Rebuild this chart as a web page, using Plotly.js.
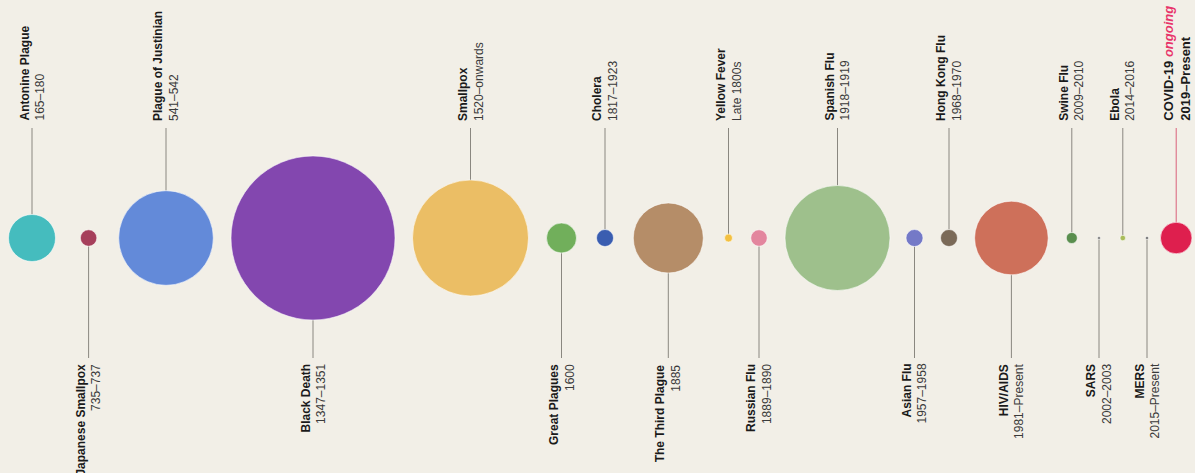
<!DOCTYPE html>
<html><head><meta charset="utf-8">
<script src="https://cdn.plot.ly/plotly-3.0.1.min.js"></script>
<style>html,body{margin:0;padding:0;background:#F2EFE7;}#chart{width:1195px;height:473px;}</style>
</head><body><div id="chart"></div>
<script>
// ---- data ----
const names = ["Antonine Plague","Japanese Smallpox","Plague of Justinian","Black Death","Smallpox","Great Plagues","Cholera","The Third Plague","Yellow Fever","Russian Flu","Spanish Flu","Asian Flu","Hong Kong Flu","HIV/AIDS","Swine Flu","SARS","Ebola","MERS","COVID-19"];
const periods = ["165–180","735–737","541–542","1347–1351","1520–onwards","1600","1817–1923","1885","Late 1800s","1889–1890","1918–1919","1957–1958","1968–1970","1981–Present","2009–2010","2002–2003","2014–2016","2015–Present","2019–Present"];
// timeline slot (centre of each bubble along the strip)
const slot = [32, 88.6, 166, 313, 470.5, 561.5, 605, 668.3, 728.5, 759, 837.5, 914.5, 949, 1011.4, 1071.8, 1099, 1122.8, 1147, 1176.2];
// relative bubble magnitude (read as bubble diameter)
const magnitude = [47, 16.5, 94.6, 164, 116, 30, 17, 70, 8, 16.5, 105, 17, 17, 73.6, 11, 3, 5.5, 3, 31.5];
const colors = ["#45BCBE","#A63F5B","#638AD9","#8347AF","#EBBE65","#71AF5B","#3A5DB0","#B58D68","#F3C041","#E3869E","#9EC08C","#7479C7","#7B6A58","#CE705A","#5A8E4E","#777777","#A9BC5A","#666666","#DE1F4E"];

// ---- layout constants ----
const UP_END = 110, DOWN_END = -120, UP_LABEL = 116, DOWN_LABEL = -125;
const FONT = "Liberation Sans, Arial, Helvetica, sans-serif";

const traces = [];
const lx = [], ly = [];
const cx = [], cy = [];
const annotations = [];
slot.forEach((x, i) => {
  const up = i % 2 === 0;
  const r = magnitude[i] / 2;
  const isCovid = names[i] === "COVID-19";
  const xs = isCovid ? cx : lx, ys = isCovid ? cy : ly;
  xs.push(x, x, null);
  ys.push(up ? r : -r, up ? UP_END : DOWN_END, null);
  let text;
  if (isCovid) {
    text = '<b>COVID-19 </b><b><i><span style="color:#E8336A">ongoing</span></i></b><br><b>' + periods[i] + '</b>';
  } else {
    text = '<b>' + names[i] + '</b><br><span style="color:#3a3a3a">' + periods[i] + '</span>';
  }
  annotations.push({
    x: x, y: up ? UP_LABEL : DOWN_LABEL, xref: 'x', yref: 'y',
    text: text, showarrow: false, textangle: -90,
    xanchor: 'center', yanchor: up ? 'bottom' : 'top',
    align: up ? 'left' : 'right', borderpad: 0,
    font: {family: FONT, size: isCovid ? 13 : 12, color: '#1a1a1a'}
  });
});
traces.push({x: lx, y: ly, mode: 'lines', line: {color: '#8a8780', width: 1}, hoverinfo: 'skip', showlegend: false});
traces.push({x: cx, y: cy, mode: 'lines', line: {color: '#D9607A', width: 1}, hoverinfo: 'skip', showlegend: false});
traces.push({
  x: slot, y: slot.map(() => 0), mode: 'markers', text: names,
  marker: {size: magnitude, sizemode: 'diameter', color: colors, opacity: 1,
           line: {color: 'rgba(255,255,255,0.55)', width: 1}},
  cliponaxis: false, hoverinfo: 'text', showlegend: false
});

const layout = {
  width: 1195, height: 473,
  margin: {l: 0, r: 0, t: 0, b: 0},
  paper_bgcolor: '#F2EFE7', plot_bgcolor: '#F2EFE7',
  xaxis: {range: [0, 1195], visible: false, fixedrange: true},
  yaxis: {range: [-235, 238], visible: false, fixedrange: true},
  annotations: annotations,
  showlegend: false
};
Plotly.newPlot('chart', traces, layout, {displayModeBar: false, staticPlot: true});
</script>
</body></html>
